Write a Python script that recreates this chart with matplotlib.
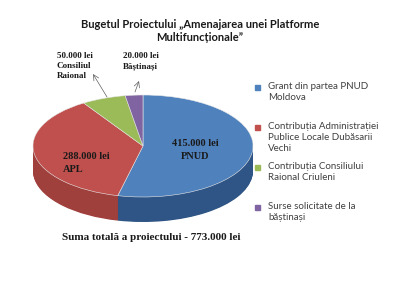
import numpy as np
import matplotlib.pyplot as plt
from matplotlib.patches import Rectangle

values = [415000, 288000, 50000, 20000]
slice_labels = ["415.000 lei\nPNUD", "288.000 lei\nAPL",
                "50.000 lei\nConsiliul\nRaional", "20.000 lei\nBăștinași"]
legend_labels = ["Grant din partea PNUD\nMoldova",
                 "Contribuția Administrației\nPublice Locale Dubăsarii\nVechi",
                 "Contribuția Consiliului\nRaional Criuleni",
                 "Surse solicitate de la\nbăștinași"]
title = "Bugetul Proiectului „Amenajarea unei Platforme\nMultifuncționale”"
footer = "Suma totală a proiectului - 773.000 lei"

colors = ["#4F81BD", "#C0504D", "#9BBB59", "#8064A2"]
side_colors = ["#2E5585", "#A0403D", "#7A9446", "#5F4A7C"]

W, H = 400, 300
fig = plt.figure(figsize=(4, 3), dpi=100)
ax = fig.add_axes([0, 0, 1, 1])

def fx(px):
    return px / W

def fy(py):
    return 1 - py / H

# ellipse centre / radii / depth in pixels
cx, cy, rx, ry, depth = 143, 146, 110, 51, 25

for d in np.linspace(depth / ry, 0, 40)[:-1]:
    ax.pie(values, colors=side_colors, startangle=90, counterclock=False,
           center=(0, -d), wedgeprops=dict(linewidth=0))
ax.pie(values, colors=colors, startangle=90, counterclock=False,
       wedgeprops=dict(linewidth=0.4, edgecolor="#e8e8e8"))

ax.set_aspect("auto")
ax.set_xlim(-cx / rx, (W - cx) / rx)
ax.set_ylim(-(H - cy) / ry, cy / ry)
ax.axis("off")

serif = dict(family="Liberation Serif", weight="bold", color="#1a1a1a")
fig.text(0.5, fy(31), title, ha="center", va="center", family="Lato",
         weight="bold", size=8, color="#1a1a1a", linespacing=1.25)

fig.text(fx(195), fy(150), slice_labels[0], ha="center", va="center",
         size=7.5, linespacing=1.5, **serif)
fig.text(fx(63), fy(163), slice_labels[1], ha="left", va="center",
         size=7.5, linespacing=1.5, **serif)
fig.text(fx(57), fy(66), slice_labels[2], ha="left", va="center",
         size=6.5, linespacing=1.25, **serif)
fig.text(fx(123), fy(61), slice_labels[3], ha="left", va="center",
         size=6.5, linespacing=1.25, **serif)

arrow = dict(arrowstyle="->", color="#606060", lw=0.5, shrinkA=0, shrinkB=0)
ax.annotate("", xy=(fx(93), fy(74)), xytext=(fx(107), fy(97)),
            xycoords="figure fraction", textcoords="figure fraction",
            arrowprops=arrow)
ax.annotate("", xy=(fx(139), fy(81)), xytext=(fx(135), fy(92)),
            xycoords="figure fraction", textcoords="figure fraction",
            arrowprops=arrow)

for i, (lab, c) in enumerate(zip(legend_labels, colors)):
    top = 82 + 40 * i
    fig.patches.append(Rectangle((fx(255), fy(top + 8)), 5 / W, 5 / H,
                                 transform=fig.transFigure, color=c))
    fig.text(fx(268), fy(top), lab, ha="left", va="top", family="Lato",
             size=7, color="#404040", linespacing=1.25)

fig.text(fx(151), fy(238), footer, ha="center", va="center", size=8, **serif)

fig.savefig("out.png", dpi=100, facecolor="white")
